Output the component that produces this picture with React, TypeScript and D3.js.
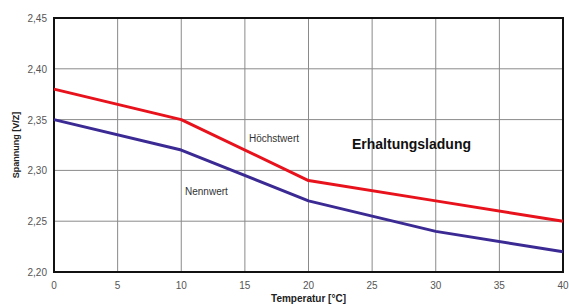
import React, { useEffect, useRef } from "react";
import * as d3 from "d3";

const temps = [0, 10, 20, 30, 40];
const hoechstwert = [2.38, 2.35, 2.29, 2.27, 2.25];
const nennwert = [2.35, 2.32, 2.27, 2.24, 2.22];
const xTicks = [0, 5, 10, 15, 20, 25, 30, 35, 40];
const yTicks = [2.2, 2.25, 2.3, 2.35, 2.4, 2.45];

const width = 569;
const height = 307;
const margin = { top: 18, right: 6, bottom: 35, left: 54 };

const App = () => {
  const ref = useRef<SVGSVGElement>(null);

  useEffect(() => {
    const svg = d3.select(ref.current);
    svg.selectAll("*").remove();

    const x = d3.scaleLinear().domain([0, 40]).range([margin.left, width - margin.right]);
    const y = d3.scaleLinear().domain([2.2, 2.45]).range([height - margin.bottom, margin.top]);

    svg.append("rect").attr("width", width).attr("height", height).attr("fill", "#fff");

    const grid = svg.append("g").attr("stroke", "#8a8a8a").attr("stroke-width", 1);
    grid
      .selectAll("line.v")
      .data(xTicks)
      .enter()
      .append("line")
      .attr("x1", (d) => x(d))
      .attr("x2", (d) => x(d))
      .attr("y1", y(2.45))
      .attr("y2", y(2.2));
    grid
      .selectAll("line.h")
      .data(yTicks)
      .enter()
      .append("line")
      .attr("x1", x(0))
      .attr("x2", x(40))
      .attr("y1", (d) => y(d))
      .attr("y2", (d) => y(d));

    svg
      .append("rect")
      .attr("x", x(0))
      .attr("y", y(2.45))
      .attr("width", x(40) - x(0))
      .attr("height", y(2.2) - y(2.45))
      .attr("fill", "none")
      .attr("stroke", "#111")
      .attr("stroke-width", 2);

    const line = d3
      .line<number>()
      .x((d, i) => x(temps[i]))
      .y((d) => y(d));

    svg
      .append("path")
      .datum(nennwert)
      .attr("d", line)
      .attr("fill", "none")
      .attr("stroke", "#3b2a93")
      .attr("stroke-width", 3)
      .attr("stroke-linejoin", "round");

    svg
      .append("path")
      .datum(hoechstwert)
      .attr("d", line)
      .attr("fill", "none")
      .attr("stroke", "#e8121c")
      .attr("stroke-width", 3)
      .attr("stroke-linejoin", "round");

    const font = "'Liberation Sans', Arial, sans-serif";

    svg
      .selectAll("text.xt")
      .data(xTicks)
      .enter()
      .append("text")
      .attr("x", (d) => x(d))
      .attr("y", y(2.2) + 17)
      .attr("text-anchor", "middle")
      .attr("font-family", font)
      .attr("font-size", 10)
      .attr("fill", "#555")
      .text((d) => d);

    svg
      .selectAll("text.yt")
      .data(yTicks)
      .enter()
      .append("text")
      .attr("x", x(0) - 7)
      .attr("y", (d) => y(d) + 4)
      .attr("text-anchor", "end")
      .attr("font-family", font)
      .attr("font-size", 10)
      .attr("fill", "#555")
      .text((d) => d3.format(".2f")(d).replace(".", ","));

    svg
      .append("text")
      .attr("transform", `translate(19,${(y(2.2) + y(2.45)) / 2}) rotate(-90)`)
      .attr("text-anchor", "middle")
      .attr("font-family", font)
      .attr("font-size", 9)
      .attr("font-weight", "bold")
      .attr("fill", "#222")
      .text("Spannung [V/Z]");

    svg
      .append("text")
      .attr("x", (x(0) + x(40)) / 2)
      .attr("y", 302)
      .attr("text-anchor", "middle")
      .attr("font-family", font)
      .attr("font-size", 10)
      .attr("font-weight", "bold")
      .attr("fill", "#222")
      .text("Temperatur [°C]");

    svg
      .append("text")
      .attr("x", 249)
      .attr("y", 142)
      .attr("font-family", font)
      .attr("font-size", 10)
      .attr("fill", "#333")
      .text("Höchstwert");

    svg
      .append("text")
      .attr("x", 185)
      .attr("y", 195)
      .attr("font-family", font)
      .attr("font-size", 10)
      .attr("fill", "#333")
      .text("Nennwert");

    svg
      .append("text")
      .attr("x", 352)
      .attr("y", 149)
      .attr("font-family", font)
      .attr("font-size", 14)
      .attr("font-weight", "bold")
      .attr("fill", "#111")
      .text("Erhaltungsladung");
  }, []);

  return (
    <svg
      ref={ref}
      width={width}
      height={height}
      style={{ position: "absolute", left: 0, top: 0 }}
    />
  );
};

export default App;
